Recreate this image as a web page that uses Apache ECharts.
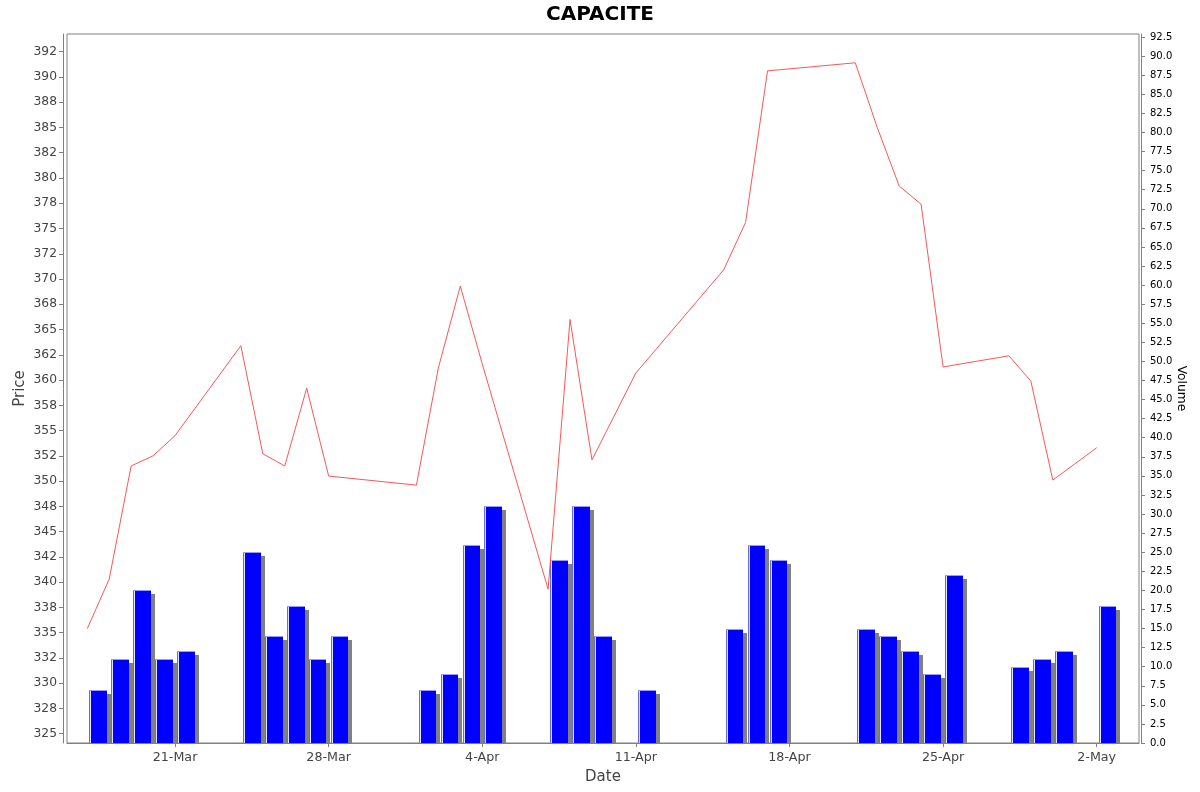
<!DOCTYPE html>
<html><head><meta charset="utf-8">
<script src="https://cdn.jsdelivr.net/npm/echarts@6/dist/echarts.min.js"></script>
<style>html,body{margin:0;padding:0;background:#fff}#c{width:1200px;height:792px}</style>
</head><body><div id="c"></div>
<script>
const tradeDates = ['2014-03-17','2014-03-18','2014-03-19','2014-03-20','2014-03-21',
  '2014-03-24','2014-03-25','2014-03-26','2014-03-27','2014-03-28',
  '2014-04-01','2014-04-02','2014-04-03','2014-04-04',
  '2014-04-07','2014-04-08','2014-04-09','2014-04-11',
  '2014-04-15','2014-04-16','2014-04-17',
  '2014-04-21','2014-04-22','2014-04-23','2014-04-24','2014-04-25',
  '2014-04-28','2014-04-29','2014-04-30','2014-05-02'];
const prices = [335.4,340.3,351.5,352.5,354.5,
  363.4,352.7,351.5,359.2,350.5,
  349.6,361.2,369.3,361.6,
  339.3,366.0,352.1,360.7,
  370.9,375.6,390.6,
  391.4,385.0,379.2,377.4,361.3,
  362.4,359.9,350.1,353.3];
const volumes = [7,11,20,11,12,
  25,14,18,11,14,
  7,9,26,31,
  24,31,14,7,
  15,26,24,
  15,14,12,9,22,
  10,11,12,18];
const dateTickDates = ['2014-03-21','2014-03-28','2014-04-04','2014-04-11','2014-04-18','2014-04-25','2014-05-02'];
const dateTickLabels = ['21-Mar','28-Mar','4-Apr','11-Apr','18-Apr','25-Apr','2-May'];
const priceTickValues = [325,327.5,330,332.5,335,337.5,340,342.5,345,347.5,350,352.5,355,357.5,360,362.5,365,367.5,370,372.5,375,377.5,380,382.5,385,387.5,390,392.5];
const priceTickLabels = ['325','328','330','332','335','338','340','342','345','348','350','352','355','358','360','362','365','368','370','372','375','378','380','382','385','388','390','392'];
const volumeTickValues = [0,2.5,5,7.5,10,12.5,15,17.5,20,22.5,25,27.5,30,32.5,35,37.5,40,42.5,45,47.5,50,52.5,55,57.5,60,62.5,65,67.5,70,72.5,75,77.5,80,82.5,85,87.5,90,92.5];
const volumeTickLabels = ['0.0','2.5','5.0','7.5','10.0','12.5','15.0','17.5','20.0','22.5','25.0','27.5','30.0','32.5','35.0','37.5','40.0','42.5','45.0','47.5','50.0','52.5','55.0','57.5','60.0','62.5','65.0','67.5','70.0','72.5','75.0','77.5','80.0','82.5','85.0','87.5','90.0','92.5'];

const DAY = 86400000;
const toTs = s => { const p = s.split('-').map(Number); return Date.UTC(p[0], p[1]-1, p[2]); };
const dateTickTs = dateTickDates.map(toTs);
const lookup = (vals, labels) => (v) => {
  for (let i = 0; i < vals.length; i++) if (Math.abs(vals[i] - v) < 1e-6 * Math.max(1, Math.abs(v))) return labels[i];
  return '';
};
const lookupTime = (v) => { const i = dateTickTs.findIndex(t => Math.abs(t - v) < 1000); return i >= 0 ? dateTickLabels[i] : ''; };

const FONT = 'DejaVu Sans';
const chart = echarts.init(document.getElementById('c'), null, {renderer: 'canvas'});
chart.setOption({
  animation: false,
  backgroundColor: '#ffffff',
  textStyle: {fontFamily: FONT},
  title: {text: 'CAPACITE', left: 'center', top: 5, padding: 0,
    textStyle: {fontFamily: FONT, fontWeight: 'bold', fontSize: 20, color: '#000'}},
  grid: {left: 67, top: 34, right: 61, bottom: 49, show: true, borderColor: '#808080', borderWidth: 1,
    backgroundColor: 'transparent', containLabel: false, outerBoundsMode: 'none'},
  xAxis: {
    type: 'value', position: 'bottom', offset: 4,
    min: toTs('2014-03-16') + 0.077 * DAY, max: toTs('2014-05-03') + 0.928 * DAY,
    name: 'Date', nameLocation: 'middle', nameGap: 23, nameMoveOverlap: false,
    nameTextStyle: {fontFamily: FONT, fontSize: 15, color: '#444'},
    axisLine: {show: true, lineStyle: {color: '#808080', width: 1}},
    axisTick: {show: true, length: 4, lineStyle: {color: '#808080'}, customValues: dateTickTs},
    axisLabel: {show: true, customValues: dateTickTs, formatter: (v) => lookupTime(v), fontFamily: FONT, fontSize: 12.7, color: '#444', margin: 4},
    splitLine: {show: false}, minorTick: {show: false}
  },
  yAxis: [{
    type: 'value', position: 'left', offset: 4, min: 324.08, max: 394.25,
    name: 'Price', nameLocation: 'middle', nameGap: 35, nameMoveOverlap: false,
    nameTextStyle: {fontFamily: FONT, fontSize: 15, color: '#444'},
    axisLine: {show: true, lineStyle: {color: '#808080', width: 1}},
    axisTick: {show: true, length: 4, lineStyle: {color: '#808080'}, customValues: priceTickValues},
    axisLabel: {customValues: priceTickValues, formatter: lookup(priceTickValues, priceTickLabels), fontFamily: FONT, fontSize: 12.3, color: '#444', margin: 6},
    splitLine: {show: false}
  }, {
    type: 'value', position: 'right', offset: 2, min: 0, max: 92.9,
    name: 'Volume', nameLocation: 'middle', nameGap: 34, nameRotate: -90, nameMoveOverlap: false,
    nameTextStyle: {fontFamily: FONT, fontSize: 12.3, color: '#000'},
    axisLine: {show: true, lineStyle: {color: '#808080', width: 1}},
    axisTick: {show: true, length: 4, lineStyle: {color: '#808080'}, customValues: volumeTickValues},
    axisLabel: {customValues: volumeTickValues, formatter: lookup(volumeTickValues, volumeTickLabels), fontFamily: FONT, fontSize: 10, color: '#000', margin: 9},
    splitLine: {show: false}
  }],
  series: [{
    type: 'custom', name: 'Volume', xAxisIndex: 0, yAxisIndex: 1,
    encode: {x: 0, y: 1},
    data: tradeDates.map((d, i) => [toTs(d), volumes[i]]),
    renderItem: function (params, api) {
      const t = api.value(0), v = api.value(1);
      const tl = api.coord([t + 0.1 * DAY, v]);
      const br = api.coord([t + 0.9 * DAY, 0]);
      const x = Math.round(tl[0]), y = Math.round(tl[1]);
      const w = Math.round(br[0]) - x, h = Math.round(br[1]) - y;
      return {type: 'group', children: [
        {type: 'rect', shape: {x: x + 4, y: y + 4, width: w, height: Math.max(0, h - 4)}, style: {fill: '#808080'}},
        {type: 'rect', shape: {x: x, y: y, width: w, height: h}, style: {fill: '#0000ff'}},
        {type: 'rect', shape: {x: x, y: y, width: 1, height: h}, style: {fill: '#6666ff'}},
        {type: 'rect', shape: {x: x + 1, y: y, width: 1, height: h}, style: {fill: '#e0e0ff'}},
        {type: 'rect', shape: {x: x, y: y, width: w, height: 1}, style: {fill: '#9999ff'}}
      ]};
    },
    z: 2
  }, {
    type: 'line', name: 'Price', xAxisIndex: 0, yAxisIndex: 0,
    data: tradeDates.map((d, i) => [toTs(d), prices[i]]),
    showSymbol: false, symbol: 'none',
    lineStyle: {color: '#ff5555', width: 1},
    itemStyle: {color: '#ff5555'},
    z: 3
  }]
});
</script>
</body></html>
